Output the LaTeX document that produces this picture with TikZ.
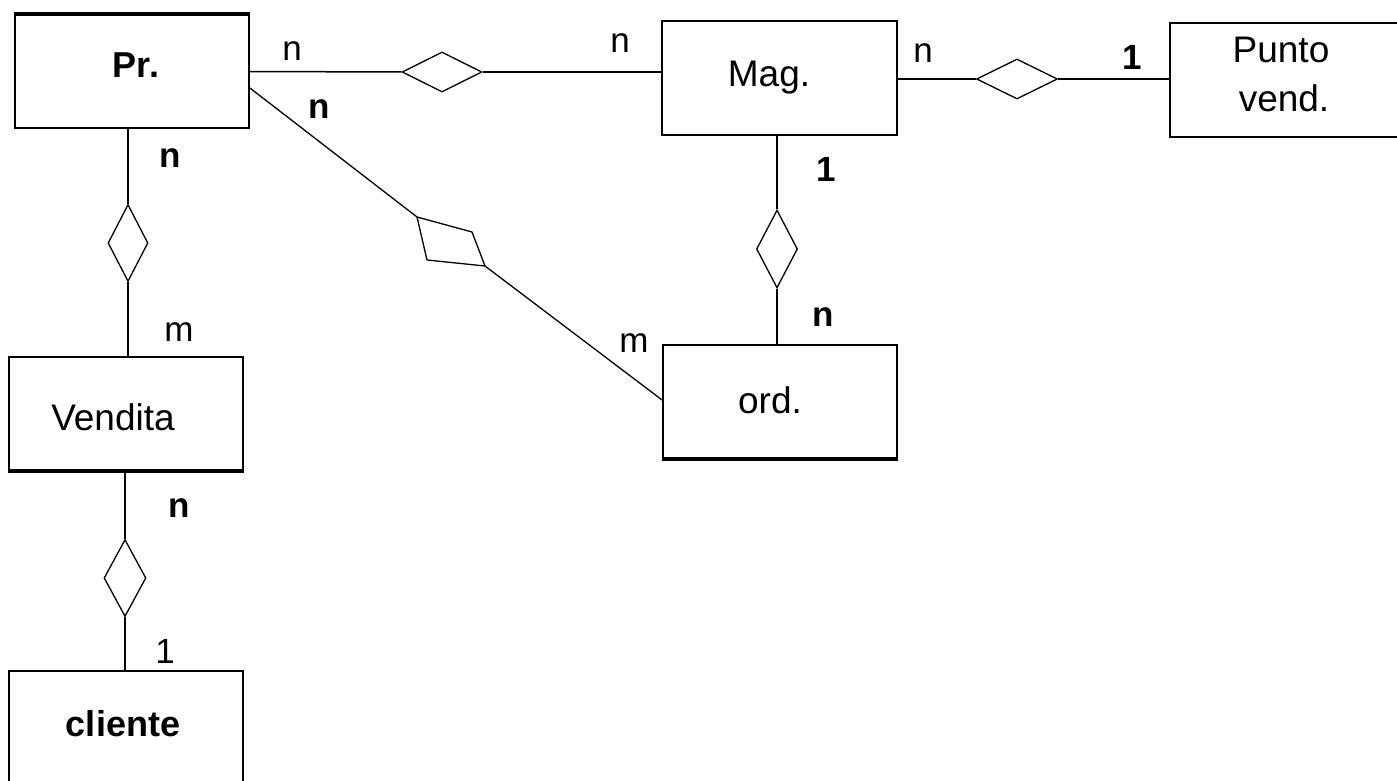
\documentclass[tikz,border=0pt]{standalone}
\usepackage{fontspec}
\setmainfont{Liberation Sans}
\usetikzlibrary{shapes.geometric,calc}
\begin{document}
\begin{tikzpicture}[x=1pt,y=-1pt,
  entity/.style={draw, line width=1.8pt, inner sep=0pt},
  rel/.style={draw, diamond, line width=1.3pt, inner sep=0pt},
  link/.style={line width=1.5pt},
  heavy/.style={line width=3.6pt},
  ename/.style={font=\fontsize{37}{42}\selectfont, anchor=base, inner sep=0pt, align=center},
  enameb/.style={ename, font=\fontsize{36}{42}\selectfont\bfseries},
  card/.style={font=\fontsize{35}{40}\selectfont, inner sep=0pt},
  cardb/.style={card, font=\fontsize{35}{40}\selectfont\bfseries}]
\useasboundingbox (0,0) rectangle (1397,781);
\clip (0,0) rectangle (1397,781);
\fill[white] (0,0) rectangle (1397,781);

% entities
\node[entity, minimum width=234pt, minimum height=113pt] (pr)  at (132,71.5)  {};
\node[entity, minimum width=235pt, minimum height=114pt] (mag) at (779.5,78)  {};
\node[entity, minimum width=240pt, minimum height=114pt] (pv)  at (1290,80)   {};
\node[entity, minimum width=234pt, minimum height=113pt] (ven) at (126,413.5) {};
\node[entity, minimum width=234pt, minimum height=113pt] (ord) at (780,401.5) {};
\node[entity, minimum width=234pt, minimum height=140pt] (cli) at (126,741)   {};

% heavier edges
\draw[heavy] (pr.north west) -- (pr.north east);
\draw[heavy] (ven.south west) -- (ven.south east);
\draw[heavy] (ord.south west) -- (ord.south east);

% entity names
\node[enameb] (prt)  at (136,78)  {Pr.};
\node[ename]  (magt) at (769,87)  {Mag.};
\node[ename]  (pvt)  at (1281,63) {Punto};
\node[ename]  (pvt2) at (1284,112) {vend.};
\node[ename]  (vent) at (113,430) {Vendita};
\node[ename]  (ordt) at (770,413) {ord.};
\node[enameb] (clit) at (123,736) {cliente};

% relationships
\node[rel, minimum width=80pt, minimum height=40pt] (r1) at (442,72)   {};
\node[rel, minimum width=81pt, minimum height=40pt] (r2) at (1017,79)  {};
\node[rel, minimum width=40pt, minimum height=77pt] (r3) at (128,243)  {};
\node[rel, minimum width=41pt, minimum height=78pt] (r4) at (777,249)  {};
\node[rel, minimum width=42pt, minimum height=77pt] (r5) at (125,578)  {};
\coordinate (q1) at (417,217);
\coordinate (q2) at (472,232);
\coordinate (q3) at (485,266);
\coordinate (q4) at (427,260);
\draw[line width=1.3pt, line join=round] (q1) -- (q2) -- (q3) -- (q4) -- cycle;

% connectors
\draw[link] (pr.east) -- (r1.west);
\draw[link] (r1.east) -- (r1.east -| mag.west);
\draw[link] (mag.east |- r2.west) -- (r2.west);
\draw[link] (r2.east) -- (r2.east -| pv.west);
\draw[line width=2.8pt] (r3.north |- pr.south) -- (r3.north);
\draw[line width=2.8pt] (r3.south) -- (r3.south |- ven.north);
\draw[link] (r4.north |- mag.south) -- (r4.north);
\draw[link] (r4.south) -- (r4.south |- ord.north);
\draw[link] (r5.north |- ven.south) -- (r5.north);
\draw[link] (r5.south) -- (r5.south |- cli.north);
\draw[line width=1.3pt] ($(pr.east)+(0,16.5)$) -- (q1);
\draw[line width=1.3pt] (q3) -- ($(ord.west)+(0,-1.5)$);

% cardinalities
\node[card]  (c1)  at (292,51)  {n};
\node[cardb] (c2)  at (319,109) {n};
\node[cardb] (c3)  at (170,158) {n};
\node[card]  (c4)  at (620,43)  {n};
\node[card]  (c5)  at (923,53)  {n};
\node[cardb] (c6)  at (1132,57) {1};
\node[cardb] (c7)  at (826,169) {1};
\node[cardb] (c8)  at (823,317) {n};
\node[card]  (c9)  at (634,343) {m};
\node[card]  (c10) at (179,332) {m};
\node[cardb] (c11) at (179,508) {n};
\node[card]  (c12) at (165,651) {1};
\end{tikzpicture}
\end{document}
